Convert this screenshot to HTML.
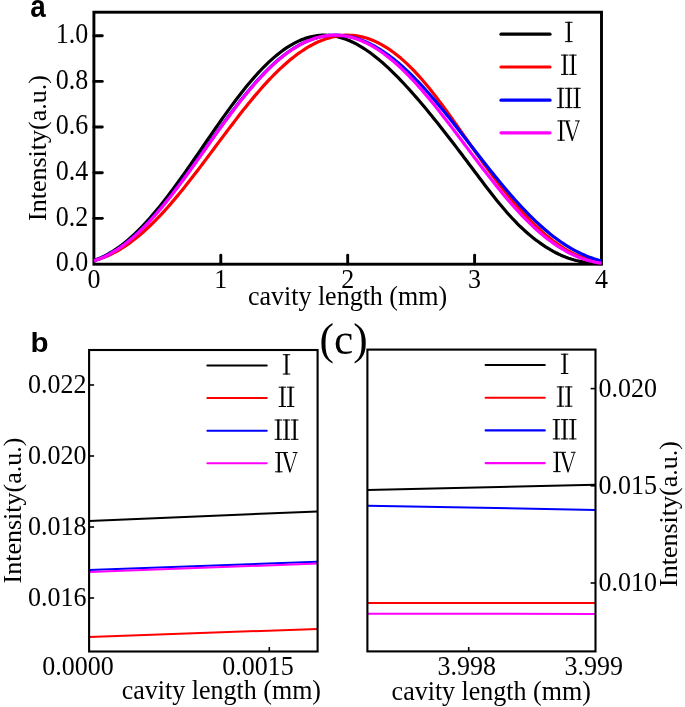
<!DOCTYPE html>
<html><head><meta charset="utf-8"><title>chart</title>
<style>html,body{margin:0;padding:0;background:#fff}svg{display:block}text{font-family:"Liberation Serif",serif;fill:#000}.sb{font-family:"Liberation Sans",sans-serif;font-weight:bold}</style></head><body>
<svg width="685" height="707" viewBox="0 0 685 707" style="will-change:transform">
<rect width="685" height="707" fill="#ffffff"/>
<g id="panelA">
<clipPath id="clipA"><rect x="93.60000000000001" y="12" width="508.90000000000003" height="253.8"/></clipPath>
<rect x="93.9" y="12.2" width="507.6" height="252.0" fill="none" stroke="#000" stroke-width="2.9"/>
<g clip-path="url(#clipA)" fill="none" stroke-width="3.2" stroke-linejoin="round">
<path d="M93.90,260.39 L96.44,259.49 L98.98,258.49 L101.51,257.39 L104.05,256.19 L106.59,254.88 L109.13,253.48 L111.67,251.98 L114.20,250.38 L116.74,248.68 L119.28,246.88 L121.82,244.99 L124.36,243.00 L126.89,240.92 L129.43,238.74 L131.97,236.48 L134.51,234.13 L137.05,231.69 L139.58,229.16 L142.12,226.55 L144.66,223.86 L147.20,221.10 L149.74,218.25 L152.27,215.33 L154.81,212.35 L157.35,209.29 L159.89,206.17 L162.43,202.98 L164.96,199.74 L167.50,196.44 L170.04,193.09 L172.58,189.69 L175.12,186.25 L177.65,182.76 L180.19,179.23 L182.73,175.67 L185.27,172.08 L187.81,168.46 L190.34,164.82 L192.88,161.15 L195.42,157.48 L197.96,153.79 L200.50,150.09 L203.03,146.39 L205.57,142.69 L208.11,138.99 L210.65,135.31 L213.19,131.63 L215.72,127.98 L218.26,124.34 L220.80,120.73 L223.34,117.15 L225.88,113.60 L228.41,110.09 L230.95,106.62 L233.49,103.19 L236.03,99.81 L238.57,96.49 L241.10,93.22 L243.64,90.01 L246.18,86.86 L248.72,83.78 L251.26,80.78 L253.79,77.84 L256.33,74.98 L258.87,72.20 L261.41,69.51 L263.95,66.90 L266.48,64.37 L269.02,61.94 L271.56,59.61 L274.10,57.36 L276.64,55.22 L279.17,53.18 L281.71,51.24 L284.25,49.40 L286.79,47.67 L289.33,46.05 L291.86,44.53 L294.40,43.13 L296.94,41.84 L299.48,40.66 L302.02,39.59 L304.55,38.64 L307.09,37.81 L309.63,37.09 L312.17,36.48 L314.71,35.99 L317.24,35.61 L319.78,35.36 L322.32,35.21 L324.86,35.18 L327.40,35.27 L329.93,35.47 L332.47,35.78 L335.01,36.20 L337.55,36.73 L340.09,37.38 L342.62,38.13 L345.16,38.99 L347.70,39.95 L350.24,41.01 L352.78,42.18 L355.31,43.45 L357.85,44.81 L360.39,46.27 L362.93,47.82 L365.47,49.47 L368.00,51.20 L370.54,53.02 L373.08,54.92 L375.62,56.90 L378.16,58.96 L380.69,61.10 L383.23,63.31 L385.77,65.59 L388.31,67.94 L390.85,70.35 L393.38,72.82 L395.92,75.35 L398.46,77.93 L401.00,80.57 L403.54,83.25 L406.07,85.99 L408.61,88.77 L411.15,91.59 L413.69,94.45 L416.23,97.35 L418.76,100.29 L421.30,103.27 L423.84,106.28 L426.38,109.32 L428.92,112.40 L431.45,115.50 L433.99,118.64 L436.53,121.80 L439.07,124.99 L441.61,128.20 L444.14,131.43 L446.68,134.69 L449.22,137.97 L451.76,141.26 L454.30,144.57 L456.83,147.90 L459.37,151.23 L461.91,154.58 L464.45,157.94 L466.99,161.31 L469.52,164.69 L472.06,168.06 L474.60,171.44 L477.14,174.82 L479.68,178.20 L482.21,181.56 L484.75,184.91 L487.29,188.23 L489.83,191.52 L492.37,194.77 L494.90,197.99 L497.44,201.15 L499.98,204.25 L502.52,207.30 L505.06,210.28 L507.59,213.19 L510.13,216.02 L512.67,218.77 L515.21,221.44 L517.75,224.02 L520.28,226.52 L522.82,228.92 L525.36,231.24 L527.90,233.48 L530.44,235.63 L532.97,237.70 L535.51,239.68 L538.05,241.59 L540.59,243.42 L543.13,245.17 L545.66,246.85 L548.20,248.44 L550.74,249.95 L553.28,251.38 L555.82,252.72 L558.35,253.98 L560.89,255.16 L563.43,256.25 L565.97,257.25 L568.51,258.17 L571.04,259.01 L573.58,259.77 L576.12,260.45 L578.66,261.06 L581.20,261.59 L583.73,262.06 L586.27,262.46 L588.81,262.80 L591.35,263.09 L593.89,263.32 L596.42,263.52 L598.96,263.67 L601.50,263.78" stroke="#000000"/>
<path d="M93.90,260.82 L96.44,260.08 L98.98,259.26 L101.51,258.36 L104.05,257.38 L106.59,256.31 L109.13,255.17 L111.67,253.94 L114.20,252.63 L116.74,251.25 L119.28,249.77 L121.82,248.22 L124.36,246.59 L126.89,244.88 L129.43,243.09 L131.97,241.22 L134.51,239.27 L137.05,237.25 L139.58,235.15 L142.12,232.98 L144.66,230.73 L147.20,228.41 L149.74,226.02 L152.27,223.56 L154.81,221.04 L157.35,218.45 L159.89,215.79 L162.43,213.08 L164.96,210.30 L167.50,207.47 L170.04,204.59 L172.58,201.65 L175.12,198.66 L177.65,195.62 L180.19,192.54 L182.73,189.42 L185.27,186.25 L187.81,183.05 L190.34,179.82 L192.88,176.55 L195.42,173.26 L197.96,169.94 L200.50,166.60 L203.03,163.24 L205.57,159.87 L208.11,156.48 L210.65,153.09 L213.19,149.68 L215.72,146.28 L218.26,142.88 L220.80,139.48 L223.34,136.09 L225.88,132.70 L228.41,129.34 L230.95,125.99 L233.49,122.66 L236.03,119.35 L238.57,116.07 L241.10,112.82 L243.64,109.61 L246.18,106.43 L248.72,103.29 L251.26,100.19 L253.79,97.14 L256.33,94.13 L258.87,91.18 L261.41,88.28 L263.95,85.43 L266.48,82.65 L269.02,79.93 L271.56,77.27 L274.10,74.67 L276.64,72.15 L279.17,69.69 L281.71,67.30 L284.25,64.99 L286.79,62.75 L289.33,60.59 L291.86,58.51 L294.40,56.50 L296.94,54.58 L299.48,52.74 L302.02,50.98 L304.55,49.31 L307.09,47.73 L309.63,46.23 L312.17,44.83 L314.71,43.52 L317.24,42.29 L319.78,41.16 L322.32,40.13 L324.86,39.19 L327.40,38.35 L329.93,37.60 L332.47,36.96 L335.01,36.41 L337.55,35.96 L340.09,35.61 L342.62,35.37 L345.16,35.22 L347.70,35.18 L350.24,35.24 L352.78,35.41 L355.31,35.68 L357.85,36.05 L360.39,36.53 L362.93,37.11 L365.47,37.80 L368.00,38.59 L370.54,39.49 L373.08,40.49 L375.62,41.60 L378.16,42.81 L380.69,44.13 L383.23,45.55 L385.77,47.07 L388.31,48.70 L390.85,50.43 L393.38,52.26 L395.92,54.19 L398.46,56.22 L401.00,58.35 L403.54,60.58 L406.07,62.90 L408.61,65.32 L411.15,67.83 L413.69,70.44 L416.23,73.13 L418.76,75.92 L421.30,78.78 L423.84,81.73 L426.38,84.76 L428.92,87.86 L431.45,91.02 L433.99,94.26 L436.53,97.55 L439.07,100.90 L441.61,104.30 L444.14,107.74 L446.68,111.23 L449.22,114.75 L451.76,118.30 L454.30,121.88 L456.83,125.48 L459.37,129.09 L461.91,132.72 L464.45,136.35 L466.99,139.97 L469.52,143.59 L472.06,147.20 L474.60,150.80 L477.14,154.37 L479.68,157.92 L482.21,161.45 L484.75,164.94 L487.29,168.41 L489.83,171.84 L492.37,175.24 L494.90,178.60 L497.44,181.91 L499.98,185.19 L502.52,188.42 L505.06,191.61 L507.59,194.75 L510.13,197.83 L512.67,200.87 L515.21,203.85 L517.75,206.78 L520.28,209.65 L522.82,212.46 L525.36,215.21 L527.90,217.91 L530.44,220.53 L532.97,223.10 L535.51,225.59 L538.05,228.02 L540.59,230.37 L543.13,232.65 L545.66,234.85 L548.20,236.97 L550.74,239.01 L553.28,240.98 L555.82,242.86 L558.35,244.66 L560.89,246.37 L563.43,248.01 L565.97,249.55 L568.51,251.02 L571.04,252.40 L573.58,253.69 L576.12,254.91 L578.66,256.04 L581.20,257.09 L583.73,258.06 L586.27,258.94 L588.81,259.75 L591.35,260.49 L593.89,261.14 L596.42,261.73 L598.96,262.24 L601.50,262.68" stroke="#ff0000"/>
<path d="M93.90,260.69 L96.44,259.84 L98.98,258.90 L101.51,257.87 L104.05,256.73 L106.59,255.50 L109.13,254.18 L111.67,252.76 L114.20,251.24 L116.74,249.63 L119.28,247.93 L121.82,246.13 L124.36,244.25 L126.89,242.27 L129.43,240.20 L131.97,238.05 L134.51,235.81 L137.05,233.49 L139.58,231.08 L142.12,228.60 L144.66,226.04 L147.20,223.40 L149.74,220.69 L152.27,217.90 L154.81,215.05 L157.35,212.13 L159.89,209.15 L162.43,206.11 L164.96,203.01 L167.50,199.85 L170.04,196.64 L172.58,193.39 L175.12,190.08 L177.65,186.74 L180.19,183.36 L182.73,179.94 L185.27,176.49 L187.81,173.01 L190.34,169.51 L192.88,165.98 L195.42,162.44 L197.96,158.89 L200.50,155.32 L203.03,151.75 L205.57,148.17 L208.11,144.59 L210.65,141.02 L213.19,137.46 L215.72,133.91 L218.26,130.38 L220.80,126.86 L223.34,123.37 L225.88,119.90 L228.41,116.47 L230.95,113.06 L233.49,109.70 L236.03,106.37 L238.57,103.09 L241.10,99.86 L243.64,96.68 L246.18,93.55 L248.72,90.48 L251.26,87.47 L253.79,84.52 L256.33,81.64 L258.87,78.82 L261.41,76.08 L263.95,73.41 L266.48,70.81 L269.02,68.30 L271.56,65.86 L274.10,63.50 L276.64,61.23 L279.17,59.05 L281.71,56.95 L284.25,54.95 L286.79,53.04 L289.33,51.22 L291.86,49.50 L294.40,47.88 L296.94,46.35 L299.48,44.92 L302.02,43.59 L304.55,42.36 L307.09,41.23 L309.63,40.19 L312.17,39.26 L314.71,38.42 L317.24,37.68 L319.78,37.04 L322.32,36.49 L324.86,36.04 L327.40,35.68 L329.93,35.42 L332.47,35.25 L335.01,35.18 L337.55,35.21 L340.09,35.33 L342.62,35.54 L345.16,35.85 L347.70,36.26 L350.24,36.76 L352.78,37.35 L355.31,38.03 L357.85,38.81 L360.39,39.68 L362.93,40.64 L365.47,41.69 L368.00,42.83 L370.54,44.06 L373.08,45.37 L375.62,46.77 L378.16,48.26 L380.69,49.83 L383.23,51.48 L385.77,53.21 L388.31,55.02 L390.85,56.91 L393.38,58.88 L395.92,60.92 L398.46,63.04 L401.00,65.22 L403.54,67.48 L406.07,69.81 L408.61,72.21 L411.15,74.67 L413.69,77.20 L416.23,79.78 L418.76,82.43 L421.30,85.13 L423.84,87.89 L426.38,90.70 L428.92,93.55 L431.45,96.46 L433.99,99.41 L436.53,102.40 L439.07,105.43 L441.61,108.49 L444.14,111.59 L446.68,114.71 L449.22,117.87 L451.76,121.05 L454.30,124.25 L456.83,127.47 L459.37,130.70 L461.91,133.95 L464.45,137.21 L466.99,140.47 L469.52,143.74 L472.06,147.01 L474.60,150.27 L477.14,153.53 L479.68,156.79 L482.21,160.03 L484.75,163.26 L487.29,166.47 L489.83,169.66 L492.37,172.84 L494.90,175.98 L497.44,179.10 L499.98,182.19 L502.52,185.25 L505.06,188.28 L507.59,191.26 L510.13,194.21 L512.67,197.12 L515.21,199.98 L517.75,202.79 L520.28,205.56 L522.82,208.28 L525.36,210.94 L527.90,213.56 L530.44,216.11 L532.97,218.61 L535.51,221.06 L538.05,223.44 L540.59,225.76 L543.13,228.01 L545.66,230.21 L548.20,232.33 L550.74,234.39 L553.28,236.39 L555.82,238.31 L558.35,240.17 L560.89,241.95 L563.43,243.67 L565.97,245.31 L568.51,246.88 L571.04,248.39 L573.58,249.82 L576.12,251.18 L578.66,252.46 L581.20,253.68 L583.73,254.82 L586.27,255.90 L588.81,256.90 L591.35,257.83 L593.89,258.70 L596.42,259.49 L598.96,260.22 L601.50,260.88" stroke="#0000ff"/>
<path d="M93.90,260.80 L96.44,259.97 L98.98,259.05 L101.51,258.03 L104.05,256.91 L106.59,255.69 L109.13,254.38 L111.67,252.98 L114.20,251.47 L116.74,249.88 L119.28,248.19 L121.82,246.41 L124.36,244.53 L126.89,242.57 L129.43,240.52 L131.97,238.38 L134.51,236.15 L137.05,233.84 L139.58,231.45 L142.12,228.98 L144.66,226.43 L147.20,223.80 L149.74,221.10 L152.27,218.32 L154.81,215.48 L157.35,212.57 L159.89,209.60 L162.43,206.57 L164.96,203.47 L167.50,200.33 L170.04,197.13 L172.58,193.88 L175.12,190.58 L177.65,187.25 L180.19,183.87 L182.73,180.46 L185.27,177.01 L187.81,173.54 L190.34,170.04 L192.88,166.51 L195.42,162.97 L197.96,159.42 L200.50,155.85 L203.03,152.28 L205.57,148.71 L208.11,145.13 L210.65,141.56 L213.19,137.99 L215.72,134.44 L218.26,130.90 L220.80,127.39 L223.34,123.89 L225.88,120.42 L228.41,116.98 L230.95,113.57 L233.49,110.20 L236.03,106.87 L238.57,103.58 L241.10,100.34 L243.64,97.15 L246.18,94.02 L248.72,90.94 L251.26,87.92 L253.79,84.96 L256.33,82.06 L258.87,79.24 L261.41,76.48 L263.95,73.80 L266.48,71.20 L269.02,68.67 L271.56,66.22 L274.10,63.86 L276.64,61.57 L279.17,59.38 L281.71,57.27 L284.25,55.25 L286.79,53.32 L289.33,51.48 L291.86,49.73 L294.40,48.08 L296.94,46.53 L299.48,45.07 L302.02,43.70 L304.55,42.44 L307.09,41.28 L309.63,40.21 L312.17,39.25 L314.71,38.39 L317.24,37.63 L319.78,36.97 L322.32,36.41 L324.86,35.96 L327.40,35.61 L329.93,35.36 L332.47,35.22 L335.01,35.18 L337.55,35.24 L340.09,35.41 L342.62,35.67 L345.16,36.04 L347.70,36.51 L350.24,37.08 L352.78,37.75 L355.31,38.52 L357.85,39.39 L360.39,40.36 L362.93,41.42 L365.47,42.58 L368.00,43.83 L370.54,45.18 L373.08,46.62 L375.62,48.15 L378.16,49.77 L380.69,51.48 L383.23,53.28 L385.77,55.16 L388.31,57.13 L390.85,59.18 L393.38,61.30 L395.92,63.51 L398.46,65.79 L401.00,68.15 L403.54,70.58 L406.07,73.08 L408.61,75.65 L411.15,78.29 L413.69,80.99 L416.23,83.75 L418.76,86.57 L421.30,89.45 L423.84,92.38 L426.38,95.36 L428.92,98.39 L431.45,101.47 L433.99,104.59 L436.53,107.75 L439.07,110.94 L441.61,114.17 L444.14,117.43 L446.68,120.72 L449.22,124.02 L451.76,127.35 L454.30,130.70 L456.83,134.06 L459.37,137.44 L461.91,140.82 L464.45,144.20 L466.99,147.59 L469.52,150.97 L472.06,154.35 L474.60,157.72 L477.14,161.08 L479.68,164.43 L482.21,167.76 L484.75,171.07 L487.29,174.35 L489.83,177.61 L492.37,180.83 L494.90,184.03 L497.44,187.19 L499.98,190.31 L502.52,193.40 L505.06,196.44 L507.59,199.43 L510.13,202.38 L512.67,205.27 L515.21,208.11 L517.75,210.90 L520.28,213.63 L522.82,216.31 L525.36,218.92 L527.90,221.47 L530.44,223.95 L532.97,226.37 L535.51,228.72 L538.05,231.00 L540.59,233.21 L543.13,235.35 L545.66,237.41 L548.20,239.40 L550.74,241.31 L553.28,243.15 L555.82,244.91 L558.35,246.59 L560.89,248.20 L563.43,249.72 L565.97,251.17 L568.51,252.54 L571.04,253.82 L573.58,255.03 L576.12,256.16 L578.66,257.21 L581.20,258.18 L583.73,259.08 L586.27,259.89 L588.81,260.63 L591.35,261.30 L593.89,261.88 L596.42,262.40 L598.96,262.84 L601.50,263.21" stroke="#ff00ff"/>
</g>
<g stroke="#000" stroke-width="2.9" stroke-linecap="round">
<line x1="93.9" x2="102.3" y1="35.75" y2="35.75"/>
<line x1="93.9" x2="102.3" y1="81.40" y2="81.40"/>
<line x1="93.9" x2="102.3" y1="127.05" y2="127.05"/>
<line x1="93.9" x2="102.3" y1="172.70" y2="172.70"/>
<line x1="93.9" x2="102.3" y1="218.35" y2="218.35"/>
<line x1="220.80" x2="220.80" y1="255.3" y2="264"/>
<line x1="347.70" x2="347.70" y1="255.3" y2="264"/>
<line x1="474.60" x2="474.60" y1="255.3" y2="264"/>
</g>
<text transform="translate(88.30,43.00) scale(1.0,1.095)" text-anchor="end" font-size="26px">1.0</text>
<text transform="translate(88.30,88.65) scale(1.0,1.095)" text-anchor="end" font-size="26px">0.8</text>
<text transform="translate(88.30,134.30) scale(1.0,1.095)" text-anchor="end" font-size="26px">0.6</text>
<text transform="translate(88.30,179.95) scale(1.0,1.095)" text-anchor="end" font-size="26px">0.4</text>
<text transform="translate(88.30,225.60) scale(1.0,1.095)" text-anchor="end" font-size="26px">0.2</text>
<text transform="translate(88.30,271.25) scale(1.0,1.095)" text-anchor="end" font-size="26px">0.0</text>
<text transform="translate(93.90,288.00) scale(1.0,1.06)" text-anchor="middle" font-size="26px">0</text>
<text transform="translate(220.80,288.00) scale(1.0,1.06)" text-anchor="middle" font-size="26px">1</text>
<text transform="translate(347.70,288.00) scale(1.0,1.06)" text-anchor="middle" font-size="26px">2</text>
<text transform="translate(474.60,288.00) scale(1.0,1.06)" text-anchor="middle" font-size="26px">3</text>
<text transform="translate(601.50,288.00) scale(1.0,1.06)" text-anchor="middle" font-size="26px">4</text>
<text transform="translate(347.50,304.50) scale(1.0,1.06)" text-anchor="middle" font-size="26px">cavity length (mm)</text>
<text transform="translate(45.90,148.00) rotate(-90)" text-anchor="middle" font-size="26px">Intensity(a.u.)</text>
<g stroke-width="3.2" stroke-linecap="round">
<line x1="501" x2="550" y1="34.2" y2="34.2" stroke="#000000"/>
<line x1="501" x2="550" y1="67.0" y2="67.0" stroke="#ff0000"/>
<line x1="501" x2="550" y1="100.2" y2="100.2" stroke="#0000ff"/>
<line x1="501" x2="550" y1="132.8" y2="132.8" stroke="#ff00ff"/>
</g>
<g fill="#000"><rect x="567.70" y="21.80" width="2.2" height="20.3"/><rect x="565.10" y="21.80" width="7.4" height="1.0"/><rect x="565.10" y="41.10" width="7.4" height="1.0"/></g>
<g fill="#000"><rect x="563.60" y="54.60" width="2.2" height="20.3"/><rect x="561.00" y="54.60" width="7.4" height="1.0"/><rect x="561.00" y="73.90" width="7.4" height="1.0"/><rect x="571.80" y="54.60" width="2.2" height="20.3"/><rect x="569.20" y="54.60" width="7.4" height="1.0"/><rect x="569.20" y="73.90" width="7.4" height="1.0"/></g>
<g fill="#000"><rect x="559.50" y="87.80" width="2.2" height="20.3"/><rect x="556.90" y="87.80" width="7.4" height="1.0"/><rect x="556.90" y="107.10" width="7.4" height="1.0"/><rect x="567.70" y="87.80" width="2.2" height="20.3"/><rect x="565.10" y="87.80" width="7.4" height="1.0"/><rect x="565.10" y="107.10" width="7.4" height="1.0"/><rect x="575.90" y="87.80" width="2.2" height="20.3"/><rect x="573.30" y="87.80" width="7.4" height="1.0"/><rect x="573.30" y="107.10" width="7.4" height="1.0"/></g>
<g fill="#000"><rect x="560.00" y="120.40" width="2.2" height="20.3"/><rect x="557.40" y="120.40" width="7.4" height="1.0"/><rect x="557.40" y="139.70" width="7.4" height="1.0"/><path d="M565.50,120.90 L567.90,120.90 L572.85,137.80 L578.20,120.90 L579.15,120.90 L572.65,141.00 L571.75,141.00 Z"/><rect x="564.00" y="120.40" width="6.2" height="1.0"/><rect x="575.10" y="120.40" width="4.7" height="1.0"/></g>
<text class="sb" transform="translate(30.30,17.10) scale(0.96,1.08)" text-anchor="start" font-size="29px">a</text>
</g>
<g id="panelB">
<g fill="none" stroke-width="2" stroke-linecap="butt">
<line x1="89.1" x2="317.6" y1="520.97" y2="511.38" stroke="#000000"/>
<line x1="89.1" x2="317.6" y1="637.05" y2="628.88" stroke="#ff0000"/>
<line x1="89.1" x2="317.6" y1="569.96" y2="561.79" stroke="#0000ff"/>
<line x1="89.1" x2="317.6" y1="572.09" y2="563.57" stroke="#ff00ff"/>
</g>
<rect x="89.1" y="350.0" width="228.50000000000003" height="301.5" fill="none" stroke="#000" stroke-width="2.1"/>
<g stroke="#000" stroke-width="1.6">
<line x1="89.1" x2="94.1" y1="385.00" y2="385.00"/>
<line x1="89.1" x2="94.1" y1="456.00" y2="456.00"/>
<line x1="89.1" x2="94.1" y1="527.00" y2="527.00"/>
<line x1="89.1" x2="94.1" y1="598.00" y2="598.00"/>
<line x1="269.3" x2="269.3" y1="647" y2="651.5"/>
</g>
<text transform="translate(86.50,392.70) scale(1.0,1.06)" text-anchor="end" font-size="26px">0.022</text>
<text transform="translate(86.50,463.70) scale(1.0,1.06)" text-anchor="end" font-size="26px">0.020</text>
<text transform="translate(86.50,534.70) scale(1.0,1.06)" text-anchor="end" font-size="26px">0.018</text>
<text transform="translate(86.50,605.70) scale(1.0,1.06)" text-anchor="end" font-size="26px">0.016</text>
<text transform="translate(42.20,675.00) scale(1.0,1.06)" text-anchor="start" font-size="26px">0.0000</text>
<text transform="translate(222.20,675.00) scale(1.0,1.06)" text-anchor="start" font-size="26px">0.0015</text>
<text transform="translate(121.80,698.70) scale(1.0,1.06)" text-anchor="start" font-size="26px">cavity length (mm)</text>
<text transform="translate(21.00,510.50) rotate(-90)" text-anchor="middle" font-size="26px">Intensity(a.u.)</text>
<g stroke-width="2.1" stroke-linecap="round">
<line x1="207.4" x2="266.7" y1="365.5" y2="365.5" stroke="#000000"/>
<line x1="207.4" x2="266.7" y1="398.0" y2="398.0" stroke="#ff0000"/>
<line x1="207.4" x2="266.7" y1="430.8" y2="430.8" stroke="#0000ff"/>
<line x1="207.4" x2="266.7" y1="463.3" y2="463.3" stroke="#ff00ff"/>
</g>
<g fill="#000"><rect x="285.40" y="354.20" width="2.2" height="20.3"/><rect x="282.80" y="354.20" width="7.4" height="1.0"/><rect x="282.80" y="373.50" width="7.4" height="1.0"/></g>
<g fill="#000"><rect x="281.30" y="386.70" width="2.2" height="20.3"/><rect x="278.70" y="386.70" width="7.4" height="1.0"/><rect x="278.70" y="406.00" width="7.4" height="1.0"/><rect x="289.50" y="386.70" width="2.2" height="20.3"/><rect x="286.90" y="386.70" width="7.4" height="1.0"/><rect x="286.90" y="406.00" width="7.4" height="1.0"/></g>
<g fill="#000"><rect x="277.20" y="419.50" width="2.2" height="20.3"/><rect x="274.60" y="419.50" width="7.4" height="1.0"/><rect x="274.60" y="438.80" width="7.4" height="1.0"/><rect x="285.40" y="419.50" width="2.2" height="20.3"/><rect x="282.80" y="419.50" width="7.4" height="1.0"/><rect x="282.80" y="438.80" width="7.4" height="1.0"/><rect x="293.60" y="419.50" width="2.2" height="20.3"/><rect x="291.00" y="419.50" width="7.4" height="1.0"/><rect x="291.00" y="438.80" width="7.4" height="1.0"/></g>
<g fill="#000"><rect x="277.70" y="452.00" width="2.2" height="20.3"/><rect x="275.10" y="452.00" width="7.4" height="1.0"/><rect x="275.10" y="471.30" width="7.4" height="1.0"/><path d="M283.20,452.50 L285.60,452.50 L290.55,469.40 L295.90,452.50 L296.85,452.50 L290.35,472.60 L289.45,472.60 Z"/><rect x="281.70" y="452.00" width="6.2" height="1.0"/><rect x="292.80" y="452.00" width="4.7" height="1.0"/></g>
<text class="sb" transform="translate(30.40,352.30) scale(1.02,0.975)" text-anchor="start" font-size="29px">b</text>
</g>
<g id="panelC">
<g fill="none" stroke-width="2" stroke-linecap="butt">
<line x1="367.4" x2="595.5" y1="490.0" y2="484.8" stroke="#000000"/>
<line x1="367.4" x2="595.5" y1="603.1" y2="603.1" stroke="#ff0000"/>
<line x1="367.4" x2="595.5" y1="505.7" y2="509.9" stroke="#0000ff"/>
<line x1="367.4" x2="595.5" y1="613.8" y2="613.9" stroke="#ff00ff"/>
</g>
<rect x="367.4" y="349.6" width="228.10000000000002" height="301.79999999999995" fill="none" stroke="#000" stroke-width="2.1"/>
<g stroke="#000" stroke-width="1.6">
<line x1="590.6" x2="595.5" y1="388.60" y2="388.60"/>
<line x1="590.6" x2="595.5" y1="485.80" y2="485.80"/>
<line x1="590.6" x2="595.5" y1="583.00" y2="583.00"/>
<line x1="468.7" x2="468.7" y1="647" y2="651.4"/>
</g>
<text transform="translate(598.60,396.50) scale(1.0,1.06)" text-anchor="start" font-size="26px">0.020</text>
<text transform="translate(598.60,493.70) scale(1.0,1.06)" text-anchor="start" font-size="26px">0.015</text>
<text transform="translate(598.60,590.90) scale(1.0,1.06)" text-anchor="start" font-size="26px">0.010</text>
<text transform="translate(466.80,675.20) scale(1.0,1.06)" text-anchor="middle" font-size="26px">3.998</text>
<text transform="translate(593.70,675.20) scale(1.0,1.06)" text-anchor="middle" font-size="26px">3.999</text>
<text transform="translate(391.60,700.00) scale(1.0,1.06)" text-anchor="start" font-size="26px">cavity length (mm)</text>
<text transform="translate(677.00,514.00) rotate(-90)" text-anchor="middle" font-size="26px">Intensity(a.u.)</text>
<g stroke-width="2.1" stroke-linecap="round">
<line x1="485.6" x2="544.8" y1="365.0" y2="365.0" stroke="#000000"/>
<line x1="485.6" x2="544.8" y1="397.7" y2="397.7" stroke="#ff0000"/>
<line x1="485.6" x2="544.8" y1="430.4" y2="430.4" stroke="#0000ff"/>
<line x1="485.6" x2="544.8" y1="463.1" y2="463.1" stroke="#ff00ff"/>
</g>
<g fill="#000"><rect x="563.50" y="353.70" width="2.2" height="20.3"/><rect x="560.90" y="353.70" width="7.4" height="1.0"/><rect x="560.90" y="373.00" width="7.4" height="1.0"/></g>
<g fill="#000"><rect x="559.40" y="386.40" width="2.2" height="20.3"/><rect x="556.80" y="386.40" width="7.4" height="1.0"/><rect x="556.80" y="405.70" width="7.4" height="1.0"/><rect x="567.60" y="386.40" width="2.2" height="20.3"/><rect x="565.00" y="386.40" width="7.4" height="1.0"/><rect x="565.00" y="405.70" width="7.4" height="1.0"/></g>
<g fill="#000"><rect x="555.30" y="419.10" width="2.2" height="20.3"/><rect x="552.70" y="419.10" width="7.4" height="1.0"/><rect x="552.70" y="438.40" width="7.4" height="1.0"/><rect x="563.50" y="419.10" width="2.2" height="20.3"/><rect x="560.90" y="419.10" width="7.4" height="1.0"/><rect x="560.90" y="438.40" width="7.4" height="1.0"/><rect x="571.70" y="419.10" width="2.2" height="20.3"/><rect x="569.10" y="419.10" width="7.4" height="1.0"/><rect x="569.10" y="438.40" width="7.4" height="1.0"/></g>
<g fill="#000"><rect x="555.80" y="451.80" width="2.2" height="20.3"/><rect x="553.20" y="451.80" width="7.4" height="1.0"/><rect x="553.20" y="471.10" width="7.4" height="1.0"/><path d="M561.30,452.30 L563.70,452.30 L568.65,469.20 L574.00,452.30 L574.95,452.30 L568.45,472.40 L567.55,472.40 Z"/><rect x="559.80" y="451.80" width="6.2" height="1.0"/><rect x="570.90" y="451.80" width="4.7" height="1.0"/></g>
<text transform="translate(319.50,354.40) scale(1.0,1.0)" text-anchor="start" font-size="43.3px">(c)</text>
</g>
</svg></body></html>
